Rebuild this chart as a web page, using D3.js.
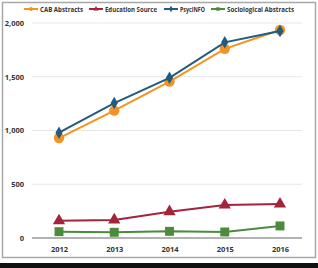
<!DOCTYPE html>
<html>
<head>
<meta charset="utf-8">
<script src="https://d3js.org/d3.v7.min.js"></script>
<style>
  html, body { margin: 0; background: #fff; overflow: hidden; }
  svg { display: block; font-family: "Open Sans", "Noto Sans", sans-serif; }
</style>
</head>
<body>
<svg id="chart" width="318" height="268"></svg>
<script>
const years = ["2012", "2013", "2014", "2015", "2016"];
const cabAbstracts = [930, 1185, 1455, 1760, 1935];
const educationSource = [160, 168, 245, 307, 316];
const psycInfo = [980, 1255, 1490, 1820, 1925];
const sociologicalAbstracts = [59, 53, 62, 56, 112];
const yTicks = [0, 500, 1000, 1500, 2000];

const series = [
  { name: "CAB Abstracts", values: cabAbstracts, color: "#f39322", symbol: d3.symbolCircle, size: 85 },
  { name: "Education Source", values: educationSource, color: "#a3243b", symbol: d3.symbolTriangle, size: 65 },
  { name: "PsycINFO", values: psycInfo, color: "#1f5c80", symbol: d3.symbolDiamond, size: 45 },
  { name: "Sociological Abstracts", values: sociologicalAbstracts, color: "#4b8b3b", symbol: d3.symbolSquare, size: 80 }
];

const svg = d3.select("#chart");

// frame and bottom bar
svg.append("rect").attr("x", 2.5).attr("y", 2.5).attr("width", 313).attr("height", 255)
  .attr("fill", "none").attr("stroke", "#a8a8a8").attr("stroke-width", 1.5);
svg.append("rect").attr("x", 0).attr("y", 263).attr("width", 318).attr("height", 5).attr("fill", "#111");

const x = d3.scalePoint().domain(years).range([59, 280]);
const y = d3.scaleLinear().domain([0, 2000]).range([238, 23]);

// gridlines
svg.append("g").selectAll("line").data(yTicks.slice(1)).join("line")
  .attr("x1", 32).attr("x2", 302)
  .attr("y1", d => y(d)).attr("y2", d => y(d))
  .attr("stroke", "#e6e6e6").attr("stroke-width", 1);

// y axis labels
const yAxis = svg.append("g").attr("transform", "translate(24,0)")
  .call(d3.axisLeft(y).tickValues(yTicks).tickSize(0).tickPadding(0).tickFormat(d3.format(",")));
yAxis.select(".domain").remove();
yAxis.selectAll("text").attr("font-size", 7.5).attr("font-weight", "bold").attr("fill", "#333")
  .attr("font-family", "\"Open Sans\", sans-serif");

// baseline
svg.append("line").attr("x1", 32).attr("x2", 302).attr("y1", y(0)).attr("y2", y(0))
  .attr("stroke", "#666").attr("stroke-width", 1.2);

// x axis labels
const xAxis = svg.append("g").attr("transform", "translate(0,247)")
  .call(d3.axisBottom(x).tickSize(0).tickPadding(0));
xAxis.select(".domain").remove();
xAxis.selectAll("text").attr("font-size", 7.5).attr("font-weight", "bold").attr("fill", "#333")
  .attr("font-family", "\"Open Sans\", sans-serif");

const line = d3.line().x((d, i) => x(years[i])).y(d => y(d));

series.forEach(s => {
  svg.append("path").datum(s.values)
    .attr("d", line).attr("fill", "none")
    .attr("stroke", s.color).attr("stroke-width", 2);
  svg.append("g").selectAll("path").data(s.values).join("path")
    .attr("transform", (d, i) => `translate(${x(years[i])},${y(d)})`)
    .attr("d", d3.symbol().type(s.symbol).size(s.size))
    .attr("fill", s.color);
});

// legend
const legendX = [24, 89, 164, 211];
const legendW = [43, 52, 25, 67];
const legend = svg.append("g").selectAll("g").data(series).join("g")
  .attr("transform", (d, i) => `translate(${legendX[i]},9)`);
legend.append("line").attr("x1", 0).attr("x2", 14).attr("y1", 0).attr("y2", 0)
  .attr("stroke", d => d.color).attr("stroke-width", 2);
legend.append("path").attr("transform", "translate(7,0)")
  .attr("d", d => d3.symbol().type(d.symbol).size(12)())
  .attr("fill", d => d.color);
legend.append("text").attr("x", 16).attr("y", 2.5)
  .attr("font-size", 7).attr("font-weight", "bold").attr("fill", "#333")
  .attr("textLength", (d, i) => legendW[i]).attr("lengthAdjust", "spacingAndGlyphs")
  .text(d => d.name);
</script>
</body>
</html>
